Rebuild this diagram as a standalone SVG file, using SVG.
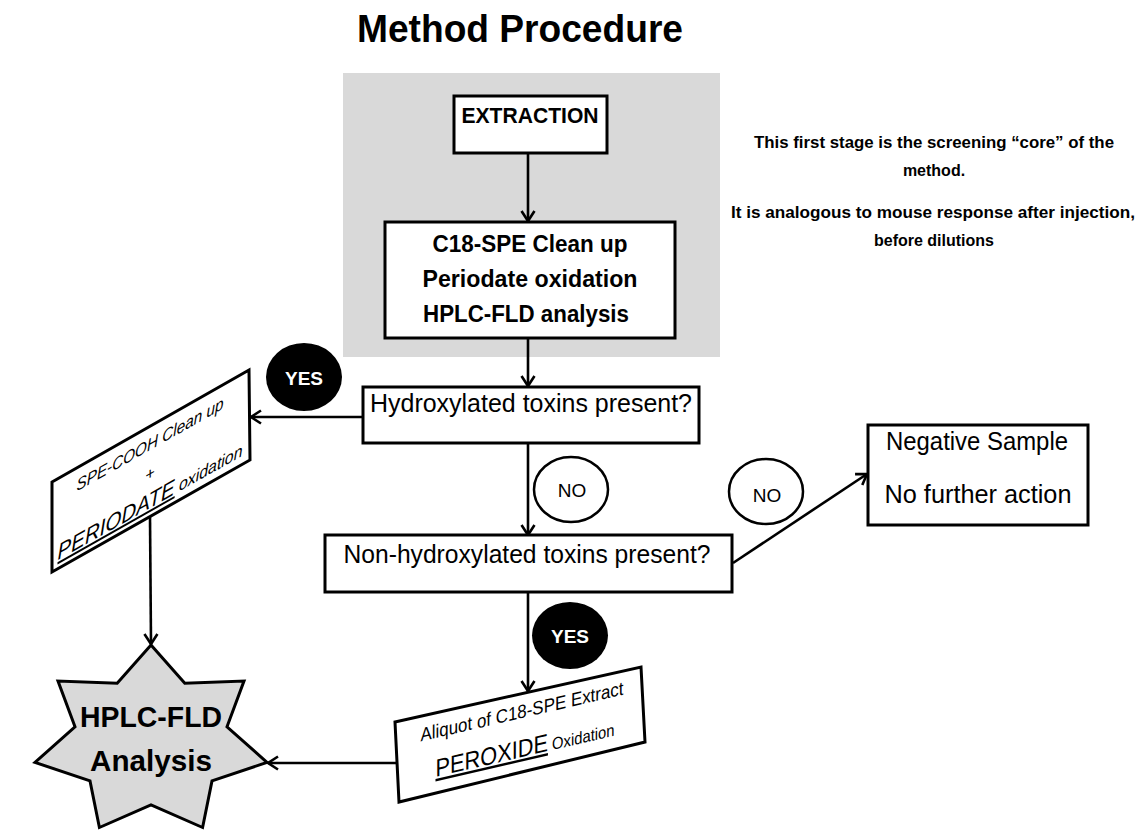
<svg xmlns="http://www.w3.org/2000/svg" width="1136" height="830" viewBox="0 0 1136 830">
<style>
text{font-family:"Liberation Sans",Arial,sans-serif;fill:#000}
.box{fill:#fff;stroke:#000;stroke-width:3}
.b{font-weight:bold}
.c{text-anchor:middle}
.conn{stroke:#000;stroke-width:2.6;fill:none;marker-end:url(#ah)}
.bub{fill:#fff;stroke:#000;stroke-width:2.5}
</style>
<defs>
<marker id="ah" markerUnits="userSpaceOnUse" viewBox="0 0 16 16" markerWidth="16" markerHeight="16" refX="13" refY="8" orient="auto">
<path d="M3,1.5 L13,8 L3,14.5" fill="none" stroke="#000" stroke-width="2.6"/>
</marker>
</defs>
<rect width="1136" height="830" fill="#fff"/>
<text class="b c" x="520" y="42" font-size="38" textLength="326" lengthAdjust="spacingAndGlyphs">Method Procedure</text>
<rect x="343" y="73" width="377" height="284" fill="#d9d9d9"/>
<g id="note">
<text class="b c" x="934" y="148" font-size="16" textLength="360" lengthAdjust="spacingAndGlyphs">This first stage is the screening “core” of the</text>
<text class="b c" x="934" y="176" font-size="16">method.</text>
<text class="b c" x="933" y="218" font-size="16" textLength="404" lengthAdjust="spacingAndGlyphs">It is analogous to mouse response after injection,</text>
<text class="b c" x="934" y="246" font-size="16">before dilutions</text>
</g>
<g id="connectors">
<line class="conn" x1="528" y1="153" x2="528" y2="221"/>
<line class="conn" x1="528" y1="338" x2="528" y2="386"/>
<line class="conn" x1="362" y1="417" x2="251" y2="417"/>
<line class="conn" x1="528" y1="443" x2="528" y2="535"/>
<line class="conn" x1="733" y1="563" x2="867" y2="474"/>
<line class="conn" x1="528" y1="592" x2="528" y2="691"/>
<line class="conn" x1="150" y1="517" x2="151" y2="644"/>
<line class="conn" x1="397" y1="763" x2="268" y2="763"/>
</g>
<g id="extraction">
<rect class="box" x="454" y="96" width="153" height="57"/>
<text class="b c" x="530" y="123" font-size="22" textLength="137" lengthAdjust="spacingAndGlyphs">EXTRACTION</text>
</g>
<g id="c18">
<rect class="box" x="385" y="222" width="290" height="116"/>
<text class="b c" x="530" y="252" font-size="23" textLength="195" lengthAdjust="spacingAndGlyphs">C18-SPE  Clean up</text>
<text class="b c" x="530" y="287" font-size="23" textLength="215" lengthAdjust="spacingAndGlyphs">Periodate oxidation</text>
<text class="b c" x="526" y="322" font-size="23" textLength="206" lengthAdjust="spacingAndGlyphs">HPLC-FLD analysis</text>
</g>
<g id="hydroxylated">
<rect class="box" x="363" y="387" width="336" height="56"/>
<text class="c" x="531" y="412" font-size="25" textLength="322" lengthAdjust="spacingAndGlyphs">Hydroxylated toxins present?</text>
</g>
<g id="yes1">
<ellipse cx="304" cy="377" rx="38" ry="34" fill="#000"/>
<text class="b c" x="304" y="385" font-size="19" style="fill:#fff">YES</text>
</g>
<g id="no1">
<ellipse class="bub" cx="571" cy="489.5" rx="37" ry="32.5"/>
<text class="c" x="572" y="497" font-size="19">NO</text>
</g>
<g id="nonhydroxylated">
<rect class="box" x="325" y="535" width="407" height="57"/>
<text class="c" x="527" y="563" font-size="25" textLength="367" lengthAdjust="spacingAndGlyphs">Non-hydroxylated toxins present?</text>
</g>
<g id="no2">
<ellipse class="bub" cx="766" cy="491.5" rx="37" ry="32.5"/>
<text class="c" x="767" y="502" font-size="19">NO</text>
</g>
<g id="negative">
<rect class="box" x="868" y="425" width="220" height="100"/>
<text class="c" x="977" y="450" font-size="25" textLength="182" lengthAdjust="spacingAndGlyphs">Negative Sample</text>
<text class="c" x="978" y="503" font-size="25" textLength="187" lengthAdjust="spacingAndGlyphs">No further action</text>
</g>
<g id="yes2">
<ellipse cx="570" cy="635.5" rx="38" ry="33.5" fill="#000"/>
<text class="b c" x="570" y="643" font-size="19" style="fill:#fff">YES</text>
</g>
<g id="spe-cooh">
<polygon class="box" points="52,482 249,370 250,460 52,572"/>
<g transform="translate(150,471) skewY(-29.5)">
<text class="c" x="0" y="-21" font-size="17" font-style="italic" textLength="147" lengthAdjust="spacingAndGlyphs">SPE-COOH Clean up</text>
<text class="c" x="0" y="8" font-size="16" font-style="italic">+</text>
<text class="c" x="0" y="37" font-style="italic" textLength="185" lengthAdjust="spacingAndGlyphs"><tspan font-size="22" text-decoration="underline">PERIODATE</tspan><tspan font-size="17"> oxidation</tspan></text>
</g>
</g>
<g id="aliquot">
<polygon class="box" points="395,722 641,667 645,742 399,802"/>
<g transform="translate(522,737) skewY(-13)">
<text class="c" x="0" y="-19" font-size="19" textLength="203" lengthAdjust="spacingAndGlyphs">Aliquot of C18-SPE Extract</text>
<text class="c" x="3" y="20" textLength="179" lengthAdjust="spacingAndGlyphs"><tspan font-size="25" text-decoration="underline">PEROXIDE</tspan><tspan font-size="17"> Oxidation</tspan></text>
</g>
</g>
<g id="hplc">
<polygon points="151,645 184.8,683.3 244,681.1 227,726.8 267,762.4 212,780.9 202.6,827.5 151,805 99.4,827.5 90,780.9 35,762.4 75,726.8 58,681.1 117.2,683.3" fill="#d9d9d9" stroke="#000" stroke-width="3" stroke-linejoin="miter"/>
<text class="b c" x="151" y="727" font-size="29" textLength="142" lengthAdjust="spacingAndGlyphs">HPLC-FLD</text>
<text class="b c" x="151" y="771" font-size="30" textLength="122" lengthAdjust="spacingAndGlyphs">Analysis</text>
</g>
</svg>
